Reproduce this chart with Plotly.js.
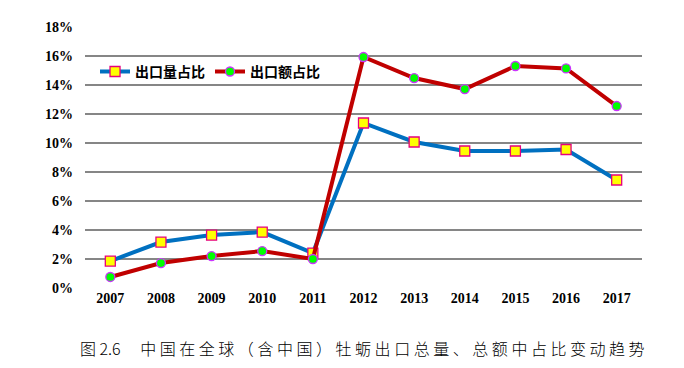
<!DOCTYPE html>
<html><head><meta charset="utf-8">
<script src="https://cdn.plot.ly/plotly-3.0.1.min.js"></script>
<style>body{margin:0;background:#fff}#c{width:684px;height:368px}</style>
</head><body><div id="c"></div>
<script>
const years = ['2007','2008','2009','2010','2011','2012','2013','2014','2015','2016','2017'];
const volumeShare = [1.86,3.17,3.65,3.86,2.41,11.38,10.07,9.45,9.45,9.55,7.45];
const valueShare = [0.76,1.72,2.2,2.55,2.0,15.93,14.48,13.72,15.31,15.14,12.55];
const yTicks = [0,2,4,6,8,10,12,14,16,18];
const yTickText = yTicks.map(v => v + '%');
const captionLabel = '图 2.6';
const captionText = '中国在全球（含中国）牡蛎出口总量、总额中占比变动趋势';

const traces = [
  {x: years, y: volumeShare, name: '出口量占比', type: 'scatter', mode: 'lines+markers',
   line: {color: '#0070C0', width: 4},
   marker: {symbol: 'square', size: 10, color: '#FFFF00', line: {color: '#E6007E', width: 1.3}}},
  {x: years, y: valueShare, name: '出口额占比', type: 'scatter', mode: 'lines+markers',
   line: {color: '#C00000', width: 4},
   marker: {symbol: 'circle', size: 9, color: '#00FF00', line: {color: '#CC33FF', width: 1.3}}}
];
const spaced = captionText.split('').join(' ');
const layout = {
  width: 684, height: 368,
  margin: {l: 85, r: 42, t: 27, b: 80},
  paper_bgcolor: '#fff', plot_bgcolor: '#fff',
  showlegend: true,
  legend: {orientation: 'h', x: 0.018, y: 0.828, xanchor: 'left', yanchor: 'middle',
    font: {family: 'Noto Sans CJK SC', size: 14, color: '#000', weight: 'bold'},
    bgcolor: 'rgba(0,0,0,0)', itemwidth: 30, tracegroupgap: 0},
  xaxis: {type: 'category', range: [-0.5, 10.5], showgrid: false, zeroline: false,
    showline: false, ticks: '',
    tickfont: {family: 'Liberation Serif', size: 14, color: '#000', weight: 'bold'}},
  yaxis: {range: [0, 18], tickvals: yTicks, ticktext: yTickText, showgrid: true,
    gridcolor: '#868686', gridwidth: 1.3, zeroline: false, showline: false, ticks: '',
    ticklabelstandoff: 11,
    tickfont: {family: 'Liberation Serif', size: 14, color: '#000', weight: 'bold'}},
  annotations: [{text: captionLabel + '　 ' + spaced,
    xref: 'paper', yref: 'paper', x: (362-85)/557, y: -(348-288)/261,
    xanchor: 'center', yanchor: 'middle', showarrow: false,
    font: {family: 'Noto Sans CJK SC', size: 16, color: '#000', weight: 300}}]
};
Plotly.newPlot('c', traces, layout, {displayModeBar: false, staticPlot: true});
</script></body></html>
